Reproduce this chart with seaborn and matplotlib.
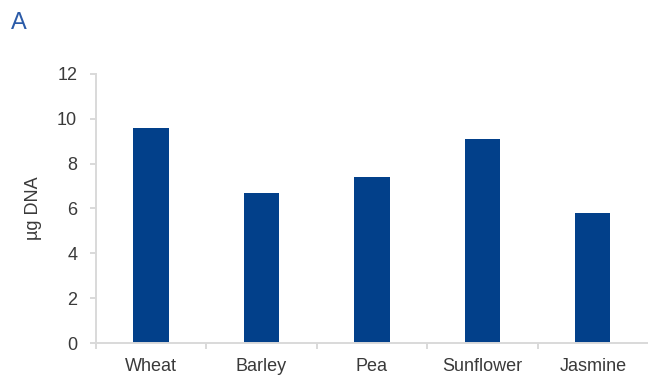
import matplotlib
matplotlib.use("Agg")
import matplotlib.pyplot as plt
import seaborn as sns
import pandas as pd
import numpy as np

categories = ["Wheat", "Barley", "Pea", "Sunflower", "Jasmine"]
dna_ug = [9.6, 6.7, 7.4, 9.1, 5.8]
y_ticks = [0, 2, 4, 6, 8, 10, 12]

df = pd.DataFrame({"plant": categories, "dna": dna_ug})

sns.set_theme(style="white")
plt.rcParams["font.family"] = ["Liberation Sans", "DejaVu Sans"]

text_color = "#3a3a3a"
axis_color = "#d9d9d9"
bar_color = "#02408a"

fig = plt.figure(figsize=(6.48, 3.77), dpi=100)
ax = fig.add_axes([0.148, 0.090, 0.852, 0.714])

sns.barplot(data=df, x="plant", y="dna", color=bar_color, width=0.32,
            saturation=1, ax=ax, edgecolor="none")

ax.set_xlim(-0.5, len(categories) - 0.5)
ax.set_ylim(0, 12)
ax.set_yticks(y_ticks)
ax.set_yticklabels([str(t) for t in y_ticks])

for side in ("top", "right"):
    ax.spines[side].set_visible(False)
for side in ("left", "bottom"):
    ax.spines[side].set_color(axis_color)
    ax.spines[side].set_linewidth(1.4)

# category boundaries carry the tick marks, labels sit at category centres
ax.set_xticks(np.arange(len(categories)))
ax.set_xticks(np.arange(len(categories)) - 0.5, minor=True)
ax.tick_params(axis="x", which="major", length=0, pad=11,
               labelsize=13, labelcolor=text_color)
ax.tick_params(axis="x", which="minor", length=4.5, width=1.4,
               color=axis_color, bottom=True)
ax.tick_params(axis="y", which="major", length=4.5, width=1.4,
               color=axis_color, pad=9, labelsize=13,
               labelcolor=text_color, left=True)

ax.set_xlabel("")
ax.set_ylabel("µg DNA", fontsize=13, color=text_color, labelpad=11)

fig.text(0.017, 0.968, "A", fontsize=17, color="#2b5ba8",
         ha="left", va="top")

fig.savefig("out.png", dpi=100)
